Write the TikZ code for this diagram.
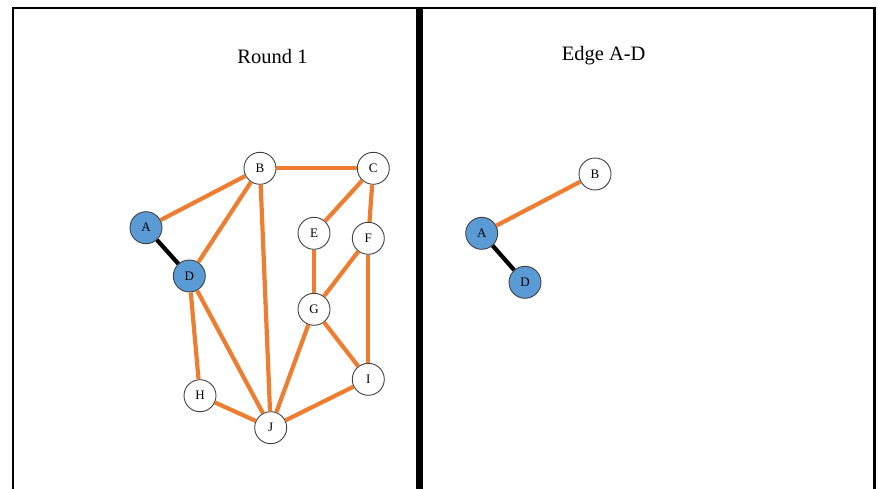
\documentclass[tikz,border=0pt]{standalone}
\usepackage{fontspec}
\setmainfont{Liberation Serif}
\definecolor{edgeor}{HTML}{ED7D31}
\definecolor{nodeblue}{HTML}{5B9BD5}
\definecolor{ringgray}{HTML}{404040}
\tikzset{
  vtx/.style={circle, draw=ringgray, line width=0.9pt, fill=white, minimum size=32pt, inner sep=0pt, font=\fontsize{13}{15}\selectfont},
  vsel/.style={vtx, fill=nodeblue},
  oedge/.style={draw=edgeor, line width=4.2pt},
  bedge/.style={draw=black, line width=4.2pt},
  ttl/.style={font=\fontsize{20.5}{24}\selectfont},
  frame/.style={draw=black}
}
\begin{document}
\begin{tikzpicture}[x=1pt,y=-1pt]
\useasboundingbox (0,0) rectangle (878,489);
% frames
\draw[frame, line width=2pt] (13,495) -- (13,7.8) -- (417,7.8);
\draw[frame, line width=2pt] (417,7.8) -- (874,7.8);
\draw[frame, line width=3pt] (874.3,7) -- (874.3,495);
\draw[frame, line width=6.5pt] (419.3,6.8) -- (419.3,495);
% titles
\node[ttl] (t1) at (272.5,56) {Round 1};
\node[ttl] (t2) at (603.7,56) {Edge A-D};
% left graph nodes
\node[vsel] (A) at (146,227.7) {A};
\node[vtx] (B) at (260,168.3) {B};
\node[vtx] (C) at (373.3,168.3) {C};
\node[vsel] (D) at (189.3,276) {D};
\node[vtx] (E) at (314,233.3) {E};
\node[vtx] (F) at (368.3,238.3) {F};
\node[vtx] (G) at (314,309.3) {G};
\node[vtx] (H) at (200,395.7) {H};
\node[vtx] (I) at (368.3,379.3) {I};
\node[vtx] (J) at (270.7,427.7) {J};
% left edges
\path[oedge] (A) -- (B);
\path[bedge] (A) -- (D);
\path[oedge] (B) -- (D);
\path[oedge] (B) -- (C);
\path[oedge] (B) -- (J);
\path[oedge] (C) -- (E);
\path[oedge] (C) -- (F);
\path[oedge] (E) -- (G);
\path[oedge] (F) -- (G);
\path[oedge] (F) -- (I);
\path[oedge] (G) -- (I);
\path[oedge] (G) -- (J);
\path[oedge] (D) -- (H);
\path[oedge] (D) -- (J);
\path[oedge] (H) -- (J);
\path[oedge] (I) -- (J);
% right graph
\node[vsel] (A2) at (481.7,233.3) {A};
\node[vtx] (B2) at (595,174) {B};
\node[vsel] (D2) at (525,282.3) {D};
\path[oedge] (A2) -- (B2);
\path[bedge] (A2) -- (D2);
\end{tikzpicture}
\end{document}
